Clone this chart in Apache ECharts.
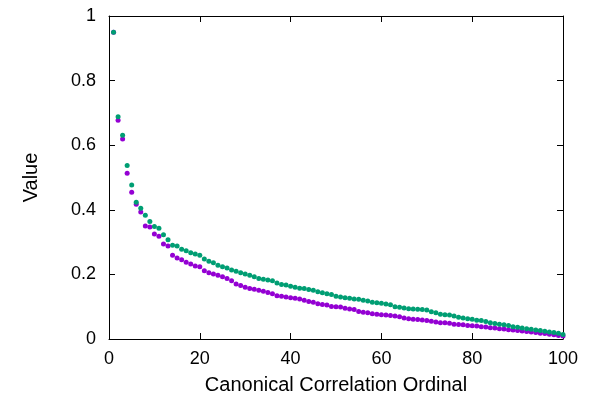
<!DOCTYPE html>
<html>
<head>
<meta charset="utf-8">
<script src="https://cdn.jsdelivr.net/npm/echarts@6/dist/echarts.min.js"></script>
<style>
  html, body { margin: 0; padding: 0; background: #fff; }
  #chart { width: 590px; height: 404px; }
</style>
</head>
<body>
<div id="chart"></div>
<script>
// canonical correlation ordinals 1..100
const ordinals = Array.from({ length: 100 }, (_, i) => i + 1)

const purpleValues = [
  0.950, 0.677, 0.619, 0.513, 0.454, 0.417, 0.393, 0.350, 0.347, 0.325,
  0.318, 0.294, 0.288, 0.259, 0.251, 0.245, 0.238, 0.232, 0.226, 0.224,
  0.211, 0.205, 0.201, 0.197, 0.193, 0.187, 0.180, 0.170, 0.166, 0.160,
  0.156, 0.154, 0.151, 0.148, 0.144, 0.140, 0.134, 0.132, 0.130, 0.128,
  0.126, 0.124, 0.120, 0.116, 0.114, 0.109, 0.107, 0.105, 0.101, 0.100,
  0.099, 0.095, 0.093, 0.091, 0.085, 0.083, 0.081, 0.078, 0.077, 0.075,
  0.074, 0.073, 0.071, 0.069, 0.065, 0.063, 0.061, 0.060, 0.059, 0.057,
  0.055, 0.053, 0.050, 0.050, 0.049, 0.046, 0.045, 0.044, 0.042, 0.041,
  0.040, 0.038, 0.037, 0.035, 0.034, 0.032, 0.031, 0.029, 0.028, 0.026,
  0.025, 0.023, 0.022, 0.020, 0.018, 0.017, 0.015, 0.013, 0.011, 0.009
]

const greenValues = [
  0.950, 0.688, 0.631, 0.537, 0.477, 0.423, 0.405, 0.383, 0.364, 0.348,
  0.343, 0.323, 0.307, 0.290, 0.288, 0.278, 0.273, 0.267, 0.263, 0.259,
  0.248, 0.241, 0.236, 0.228, 0.224, 0.220, 0.214, 0.210, 0.205, 0.201,
  0.197, 0.193, 0.187, 0.185, 0.183, 0.180, 0.173, 0.169, 0.167, 0.163,
  0.160, 0.157, 0.156, 0.153, 0.151, 0.146, 0.143, 0.140, 0.138, 0.132,
  0.130, 0.128, 0.126, 0.124, 0.123, 0.120, 0.118, 0.114, 0.112, 0.111,
  0.108, 0.106, 0.100, 0.098, 0.096, 0.094, 0.093, 0.092, 0.091, 0.090,
  0.084, 0.081, 0.077, 0.075, 0.074, 0.071, 0.067, 0.065, 0.063, 0.061,
  0.058, 0.057, 0.054, 0.050, 0.048, 0.046, 0.044, 0.042, 0.038, 0.036,
  0.034, 0.032, 0.030, 0.028, 0.026, 0.024, 0.022, 0.020, 0.018, 0.014
]

const font = 'Liberation Sans, Arial, Helvetica, sans-serif'
const frame = { show: true, onZero: false, lineStyle: { color: '#000', width: 1 } }
const ticks = { show: true, inside: true, length: 6, lineStyle: { color: '#000', width: 1 } }

const chart = echarts.init(document.getElementById('chart'))

chart.setOption({
  animation: false,
  grid: { left: 109, right: 27, top: 16, bottom: 65 },
  xAxis: [{
    type: 'value',
    min: 0,
    max: 100,
    interval: 20,
    name: 'Canonical Correlation Ordinal',
    nameLocation: 'middle',
    nameGap: 36,
    nameTextStyle: { fontFamily: font, fontSize: 20, color: '#000' },
    axisLine: frame,
    axisTick: ticks,
    axisLabel: { fontFamily: font, fontSize: 18, color: '#000', margin: 11 },
    splitLine: { show: false }
  }, {
    type: 'value',
    position: 'top',
    min: 0,
    max: 100,
    interval: 20,
    axisLine: frame,
    axisTick: ticks,
    axisLabel: { show: false },
    splitLine: { show: false }
  }],
  yAxis: [{
    type: 'value',
    min: 0,
    max: 1,
    interval: 0.2,
    name: 'Value',
    nameLocation: 'middle',
    nameGap: 68,
    nameTextStyle: { fontFamily: font, fontSize: 20, color: '#000' },
    axisLine: frame,
    axisTick: ticks,
    axisLabel: {
      fontFamily: font, fontSize: 18, color: '#000', margin: 13,
      formatter: v => String(Math.round(v * 10) / 10)
    },
    splitLine: { show: false }
  }, {
    type: 'value',
    position: 'right',
    min: 0,
    max: 1,
    interval: 0.2,
    axisLine: frame,
    axisTick: ticks,
    axisLabel: { show: false },
    splitLine: { show: false }
  }],
  series: [
    {
      name: 'purple',
      type: 'scatter',
      symbolSize: 5,
      itemStyle: { color: '#9400d3', opacity: 1 },
      data: ordinals.map((x, i) => [x, purpleValues[i]])
    },
    {
      name: 'green',
      type: 'scatter',
      symbolSize: 5,
      itemStyle: { color: '#009e73', opacity: 1 },
      data: ordinals.map((x, i) => [x, greenValues[i]])
    }
  ]
})
</script>
</body>
</html>
